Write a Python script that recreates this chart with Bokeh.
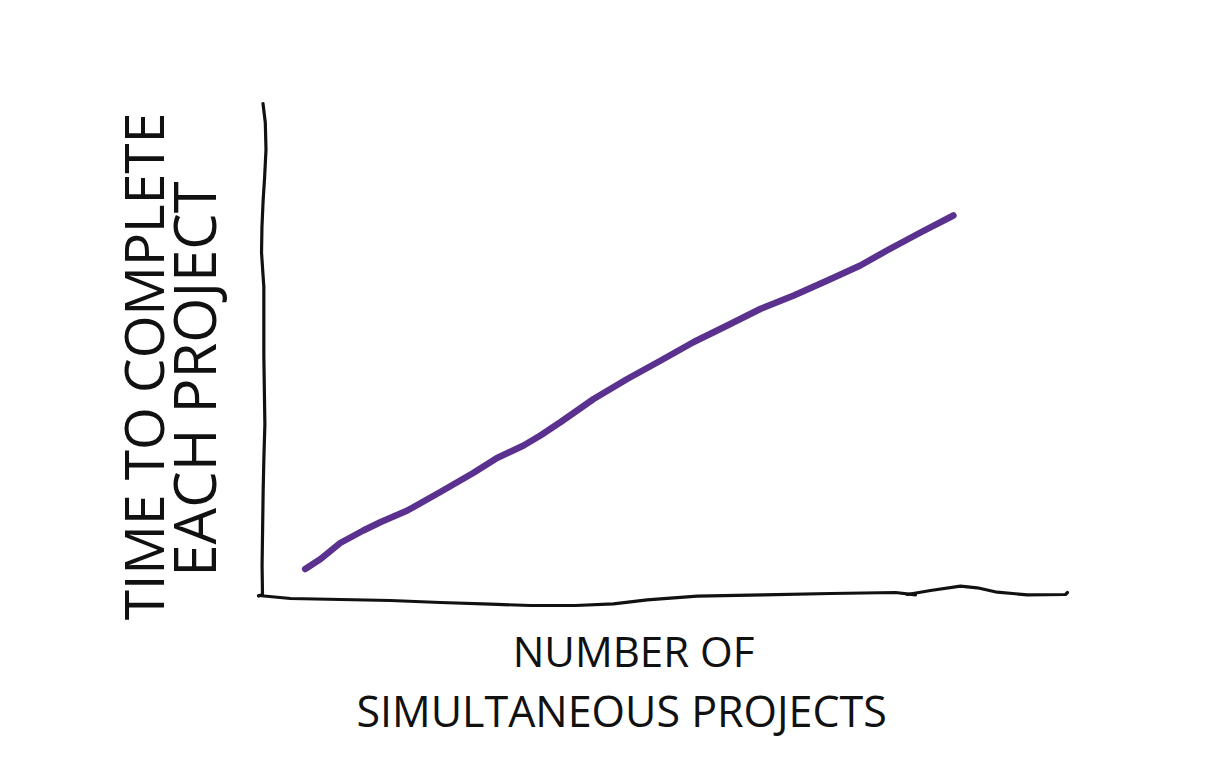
import math
from bokeh.plotting import figure
from bokeh.models import Range1d, Label
from bokeh.embed import file_html
from bokeh.resources import INLINE

# ---- data (arbitrary units) ----
curve_x = [0.61, 0.83, 1.11, 1.44, 1.69, 2.07, 2.54, 3.01, 3.35, 3.73, 3.97,
           4.26, 4.73, 5.21, 5.69, 6.16, 6.64, 7.11, 7.59, 8.07, 8.54, 8.92,
           9.40, 9.87]
curve_y = [0.57, 0.77, 1.09, 1.34, 1.51, 1.74, 2.11, 2.49, 2.79, 3.04, 3.24,
           3.51, 3.97, 4.37, 4.74, 5.11, 5.44, 5.77, 6.04, 6.34, 6.64, 6.94,
           7.30, 7.64]

# hand-drawn y axis
yaxis_x = [0.007, 0.040, 0.050, 0.030, 0.009, -0.008, -0.014, 0.005, 0.019,
           0.019, 0.034, 0.020, 0.009, -0.006, 0.0, -0.057]
yaxis_y = [9.88, 9.50, 8.96, 8.40, 7.94, 7.40, 6.90, 6.50, 6.22, 4.84, 3.46,
           2.80, 2.10, 0.64, 0.06, 0.03]

# hand-drawn x axis (first stroke)
xaxis1_x = [-0.053, 0.40, 1.114, 1.829, 2.543, 3.257, 3.829, 4.471, 5.014,
            5.496, 6.21, 7.157, 8.114, 9.043, 9.329]
xaxis1_y = [0.04, -0.02, -0.04, -0.06, -0.10, -0.134, -0.16, -0.16, -0.126,
            -0.046, 0.026, 0.054, 0.08, 0.10, 0.054]
# second stroke with bump
xaxis2_x = [9.21, 9.543, 9.971, 10.21, 10.496, 10.924, 11.471, 11.50]
xaxis2_y = [0.06, 0.14, 0.226, 0.194, 0.106, 0.054, 0.06, 0.10]

x_label_lines = ["NUMBER OF", "SIMULTANEOUS PROJECTS"]
y_label_lines = ["TIME TO COMPLETE", "EACH PROJECT"]

W, H = 1193, 761
p = figure(width=W, height=H, output_backend="svg", toolbar_location=None,
           x_axis_location=None, y_axis_location=None, min_border=0,
           x_range=Range1d((0 - 262) / 70, (W - 262) / 70),
           y_range=Range1d((597 - H) / 50, 597 / 50))
p.outline_line_color = None
p.grid.visible = False
p.background_fill_color = "white"
p.border_fill_color = "white"

ink = "#111111"
for xs, ys in ((yaxis_x, yaxis_y), (xaxis1_x, xaxis1_y), (xaxis2_x, xaxis2_y)):
    p.line(xs, ys, line_color=ink, line_width=3.2, line_cap="round", line_join="round")

p.line(curve_x, curve_y, line_color="#5B3190", line_width=6.5, line_cap="round", line_join="round")

font = "Open Sans"
p.add_layout(Label(x=5.30, y=-1.06, text=x_label_lines[0], text_font=font,
                   text_font_size="42px", text_align="center",
                   text_baseline="middle", text_color=ink))
p.add_layout(Label(x=5.13, y=-2.26, text=x_label_lines[1], text_font=font,
                   text_font_size="43px", text_align="center",
                   text_baseline="middle", text_color=ink))
p.add_layout(Label(x=-1.71, y=4.62, text=y_label_lines[0], text_font=font,
                   text_font_size="55px", text_align="center", angle=math.pi / 2,
                   text_baseline="middle", text_color=ink))
p.add_layout(Label(x=-0.986, y=4.37, text=y_label_lines[1], text_font=font,
                   text_font_size="58px", text_align="center", angle=math.pi / 2,
                   text_baseline="middle", text_color=ink))

open("out.html", "w").write(file_html(p, INLINE))
